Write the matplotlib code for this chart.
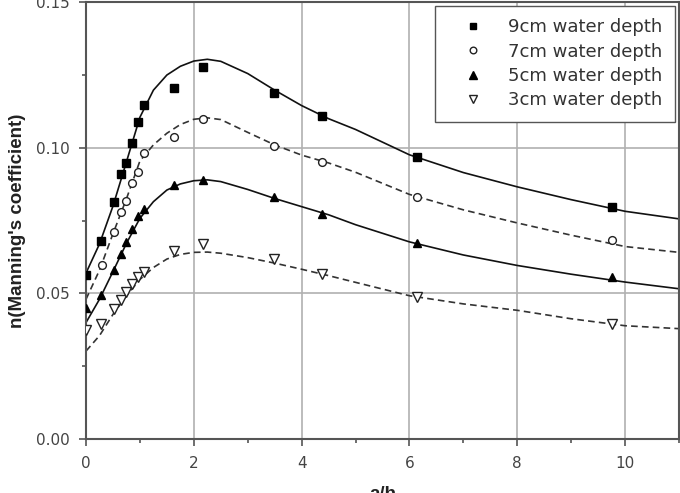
import matplotlib.pyplot as plt
from matplotlib.ticker import MultipleLocator, FormatStrFormatter

plt.rcParams['font.family'] = ['Liberation Sans', 'DejaVu Sans']

# measured points (a/h, Manning's n)
x_pts = [0, 0.27, 0.52, 0.65, 0.75, 0.86, 0.96, 1.08, 1.64, 2.17, 3.49, 4.38, 6.14, 9.76]
x_pts_7 = [0.30, 0.52, 0.65, 0.75, 0.86, 0.96, 1.08, 1.64, 2.17, 3.49, 4.38, 6.14, 9.76]
n_9cm = [0.0562, 0.0680, 0.0815, 0.0910, 0.0948, 0.1016, 0.1087, 0.1146, 0.1206, 0.1277,
         0.1188, 0.1110, 0.0969, 0.0798]
n_7cm = [0.0596, 0.0712, 0.0778, 0.0818, 0.0878, 0.0918, 0.0982, 0.1038, 0.1098, 0.1007,
         0.0951, 0.0830, 0.0682]
n_5cm = [0.0449, 0.0493, 0.0581, 0.0636, 0.0676, 0.0720, 0.0765, 0.0790, 0.0872, 0.0890,
         0.0830, 0.0773, 0.0674, 0.0558]
n_3cm = [0.0373, 0.0396, 0.0448, 0.0477, 0.0504, 0.0533, 0.0556, 0.0575, 0.0647, 0.0668,
         0.0619, 0.0565, 0.0487, 0.0396]

# fitted curves
curve_x = [0, 0.25, 0.5, 0.75, 1.0, 1.25, 1.5, 1.75, 2.0, 2.25, 2.5, 3.0, 3.5, 4.0, 4.5,
           5.0, 6.0, 7.0, 8.0, 9.0, 10.0, 11.0]
fit_9cm = [0.0570, 0.0670, 0.0800, 0.0952, 0.1105, 0.1198, 0.1250, 0.1280, 0.1298, 0.1304,
           0.1297, 0.1255, 0.1198, 0.1145, 0.1100, 0.1063, 0.0976, 0.0915, 0.0866, 0.0822,
           0.0782, 0.0756]
fit_7cm = [0.0480, 0.0580, 0.0705, 0.0825, 0.0955, 0.1010, 0.1050, 0.1080, 0.1098, 0.1103,
           0.1097, 0.1053, 0.1010, 0.0975, 0.0948, 0.0916, 0.0840, 0.0787, 0.0742, 0.0700,
           0.0661, 0.0641]
fit_5cm = [0.0400, 0.0480, 0.0575, 0.0672, 0.0758, 0.0815, 0.0855, 0.0876, 0.0887, 0.0890,
           0.0884, 0.0857, 0.0826, 0.0798, 0.0770, 0.0736, 0.0677, 0.0632, 0.0596, 0.0566,
           0.0539, 0.0516]
fit_3cm = [0.0302, 0.0355, 0.0428, 0.0492, 0.0548, 0.0589, 0.0618, 0.0634, 0.0641, 0.0642,
           0.0638, 0.0623, 0.0604, 0.0583, 0.0561, 0.0538, 0.0492, 0.0464, 0.0442, 0.0413,
           0.0389, 0.0379]

labels = ['9cm water depth', '7cm water depth', '5cm water depth', '3cm water depth']

fig = plt.figure(figsize=(6.8, 4.93), dpi=100)
ax = fig.add_axes([0.1265, 0.1095, 0.872, 0.886])

dash = (0, (4, 2.5))
ax.plot(curve_x, fit_9cm, color='#111111', lw=1.2, zorder=2)
ax.plot(curve_x, fit_7cm, color='#333333', lw=1.2, ls=dash, zorder=2)
ax.plot(curve_x, fit_5cm, color='#111111', lw=1.2, zorder=2)
ax.plot(curve_x, fit_3cm, color='#333333', lw=1.2, ls=dash, zorder=2)

h9, = ax.plot(x_pts, n_9cm, ls='none', marker='s', ms=5.4, color='black', zorder=3)
h7, = ax.plot(x_pts_7, n_7cm, ls='none', marker='o', ms=5.6, mfc='white', mec='#222222',
              mew=1, zorder=3)
h5, = ax.plot(x_pts, n_5cm, ls='none', marker='^', ms=6.4, color='black', zorder=3)
h3, = ax.plot(x_pts, n_3cm, ls='none', marker='v', ms=6.8, mfc='white', mec='#222222',
              mew=1, zorder=3)

ax.set_xlim(0, 11)
ax.set_ylim(0, 0.15)
ax.xaxis.set_major_locator(MultipleLocator(2))
ax.xaxis.set_minor_locator(MultipleLocator(1))
ax.yaxis.set_major_locator(MultipleLocator(0.05))
ax.yaxis.set_minor_locator(MultipleLocator(0.025))
ax.yaxis.set_major_formatter(FormatStrFormatter('%.2f'))
ax.grid(True, which='major', color='#b0b0b0', lw=1.2)
ax.set_axisbelow(True)

for s in ax.spines.values():
    s.set_color('#555555')
    s.set_linewidth(1.5)
ax.tick_params(which='major', direction='out', length=5, width=1.2, color='#555555',
               labelsize=11, labelcolor='#444444', pad=7)
ax.tick_params(which='minor', direction='out', length=3, width=1.2, color='#555555')
for lab in ax.get_xticklabels() + ax.get_yticklabels():
    lab.set_family('DejaVu Sans')

ax.set_ylabel("n(Manning's coefficient)", fontsize=13.5, fontweight='bold', color='#222222',
              labelpad=7)
ax.set_xlabel('a/h', fontsize=13.5, fontweight='bold', color='#222222', labelpad=11)

leg = ax.legend([h9, h7, h5, h3], labels, loc='upper right',
                prop={'family': 'DejaVu Sans', 'size': 13},
                frameon=True, fancybox=False, borderaxespad=0.2, handlelength=2.8,
                handletextpad=0.55, labelspacing=0.35, borderpad=0.7, markerscale=0.85)
leg.get_frame().set_edgecolor('#555555')
leg.get_frame().set_linewidth(1)
leg.get_frame().set_alpha(1)
for t in leg.get_texts():
    t.set_color('#333333')

fig.savefig('out.png', dpi=100)
